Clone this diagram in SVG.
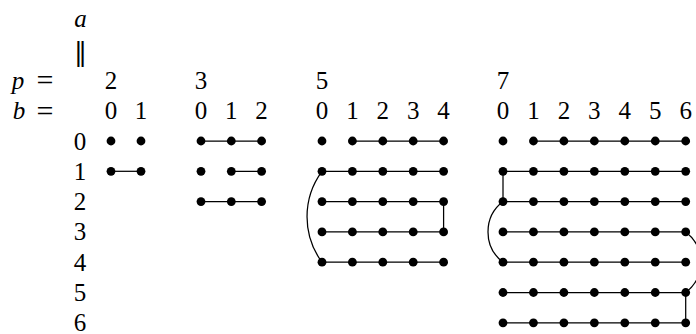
<svg xmlns="http://www.w3.org/2000/svg" xmlns:xlink="http://www.w3.org/1999/xlink" width="696" height="334" viewBox="0 0 696 334">
<style>
.dot{fill:#000}
.ln{fill:none;stroke:#000;stroke-width:1.25}
</style>
<defs><circle id="d" r="4.4" class="dot"/></defs>
<rect width="696" height="334" fill="#fff"/>
<g id="labels" font-family="'Liberation Serif', 'DejaVu Serif', serif" font-size="25" text-anchor="middle" fill="#000">
<text x="80.5" y="27" font-style="italic">a</text>
<text x="80.5" y="61" font-family="'DejaVu Serif', serif" font-size="26">‖</text>
<text x="18" y="88.5" font-style="italic">p</text>
<text x="45" y="90" font-size="30">=</text>
<text x="19" y="119" font-style="italic">b</text>
<text x="45" y="120.5" font-size="30">=</text>
<text x="111" y="88.5">2</text><text x="111" y="119">0</text><text x="141" y="119">1</text>
<text x="201" y="88.5">3</text><text x="201" y="119">0</text><text x="231.3" y="119">1</text><text x="261.6" y="119">2</text>
<text x="322" y="88.5">5</text><text x="322" y="119">0</text><text x="352.4" y="119">1</text><text x="382.8" y="119">2</text><text x="413.2" y="119">3</text><text x="443.6" y="119">4</text>
<text x="503" y="88.5">7</text><text x="503" y="119">0</text><text x="533.45" y="119">1</text><text x="563.9" y="119">2</text><text x="594.35" y="119">3</text><text x="624.8" y="119">4</text><text x="655.25" y="119">5</text><text x="685.7" y="119">6</text>
<text x="80" y="149.5">0</text><text x="80" y="179.8">1</text><text x="80" y="210.1">2</text><text x="80" y="240.4">3</text><text x="80" y="270.7">4</text><text x="80" y="301">5</text><text x="80" y="330.5">6</text>
</g>
<g id="connectors">
<path class="ln" d="M111,171.3H141"/>
<path class="ln" d="M201,141H261.6M231.3,171.3H261.6M201,201.6H261.6"/>
<path class="ln" d="M352.4,141H443.6M322,171.3H443.6M322,201.6H443.6M322,231.9H443.6M322,262.2H443.6M443.6,201.6V231.9"/>
<path class="ln" d="M322,171.3A76.5,76.5 0 0 0 322,262.2"/>
<path class="ln" d="M533.45,141H685.7M503,171.3H685.7M503,201.6H685.7M503,231.9H685.7M503,262.2H685.7M503,292.5H685.7M503,322.8H685.7M503,171.3V201.6M685.7,292.5V322.8"/>
<path class="ln" d="M503,201.6A38.1,38.1 0 0 0 503,262.2M685.7,231.9A38.1,38.1 0 0 1 685.7,292.5"/>
</g>
<g id="p2">
<g id="p2-r0"><use xlink:href="#d" x="111" y="141"/><use xlink:href="#d" x="141" y="141"/></g>
<g id="p2-r1"><use xlink:href="#d" x="111" y="171.3"/><use xlink:href="#d" x="141" y="171.3"/></g>
</g>
<g id="p3">
<g id="p3-r0"><use xlink:href="#d" x="201" y="141"/><use xlink:href="#d" x="231.3" y="141"/><use xlink:href="#d" x="261.6" y="141"/></g>
<g id="p3-r1"><use xlink:href="#d" x="201" y="171.3"/><use xlink:href="#d" x="231.3" y="171.3"/><use xlink:href="#d" x="261.6" y="171.3"/></g>
<g id="p3-r2"><use xlink:href="#d" x="201" y="201.6"/><use xlink:href="#d" x="231.3" y="201.6"/><use xlink:href="#d" x="261.6" y="201.6"/></g>
</g>
<g id="p5">
<g id="p5-r0"><use xlink:href="#d" x="322" y="141"/><use xlink:href="#d" x="352.4" y="141"/><use xlink:href="#d" x="382.8" y="141"/><use xlink:href="#d" x="413.2" y="141"/><use xlink:href="#d" x="443.6" y="141"/></g>
<g id="p5-r1"><use xlink:href="#d" x="322" y="171.3"/><use xlink:href="#d" x="352.4" y="171.3"/><use xlink:href="#d" x="382.8" y="171.3"/><use xlink:href="#d" x="413.2" y="171.3"/><use xlink:href="#d" x="443.6" y="171.3"/></g>
<g id="p5-r2"><use xlink:href="#d" x="322" y="201.6"/><use xlink:href="#d" x="352.4" y="201.6"/><use xlink:href="#d" x="382.8" y="201.6"/><use xlink:href="#d" x="413.2" y="201.6"/><use xlink:href="#d" x="443.6" y="201.6"/></g>
<g id="p5-r3"><use xlink:href="#d" x="322" y="231.9"/><use xlink:href="#d" x="352.4" y="231.9"/><use xlink:href="#d" x="382.8" y="231.9"/><use xlink:href="#d" x="413.2" y="231.9"/><use xlink:href="#d" x="443.6" y="231.9"/></g>
<g id="p5-r4"><use xlink:href="#d" x="322" y="262.2"/><use xlink:href="#d" x="352.4" y="262.2"/><use xlink:href="#d" x="382.8" y="262.2"/><use xlink:href="#d" x="413.2" y="262.2"/><use xlink:href="#d" x="443.6" y="262.2"/></g>
</g>
<g id="p7">
<g id="p7-r0"><use xlink:href="#d" x="503" y="141"/><use xlink:href="#d" x="533.45" y="141"/><use xlink:href="#d" x="563.9" y="141"/><use xlink:href="#d" x="594.35" y="141"/><use xlink:href="#d" x="624.8" y="141"/><use xlink:href="#d" x="655.25" y="141"/><use xlink:href="#d" x="685.7" y="141"/></g>
<g id="p7-r1"><use xlink:href="#d" x="503" y="171.3"/><use xlink:href="#d" x="533.45" y="171.3"/><use xlink:href="#d" x="563.9" y="171.3"/><use xlink:href="#d" x="594.35" y="171.3"/><use xlink:href="#d" x="624.8" y="171.3"/><use xlink:href="#d" x="655.25" y="171.3"/><use xlink:href="#d" x="685.7" y="171.3"/></g>
<g id="p7-r2"><use xlink:href="#d" x="503" y="201.6"/><use xlink:href="#d" x="533.45" y="201.6"/><use xlink:href="#d" x="563.9" y="201.6"/><use xlink:href="#d" x="594.35" y="201.6"/><use xlink:href="#d" x="624.8" y="201.6"/><use xlink:href="#d" x="655.25" y="201.6"/><use xlink:href="#d" x="685.7" y="201.6"/></g>
<g id="p7-r3"><use xlink:href="#d" x="503" y="231.9"/><use xlink:href="#d" x="533.45" y="231.9"/><use xlink:href="#d" x="563.9" y="231.9"/><use xlink:href="#d" x="594.35" y="231.9"/><use xlink:href="#d" x="624.8" y="231.9"/><use xlink:href="#d" x="655.25" y="231.9"/><use xlink:href="#d" x="685.7" y="231.9"/></g>
<g id="p7-r4"><use xlink:href="#d" x="503" y="262.2"/><use xlink:href="#d" x="533.45" y="262.2"/><use xlink:href="#d" x="563.9" y="262.2"/><use xlink:href="#d" x="594.35" y="262.2"/><use xlink:href="#d" x="624.8" y="262.2"/><use xlink:href="#d" x="655.25" y="262.2"/><use xlink:href="#d" x="685.7" y="262.2"/></g>
<g id="p7-r5"><use xlink:href="#d" x="503" y="292.5"/><use xlink:href="#d" x="533.45" y="292.5"/><use xlink:href="#d" x="563.9" y="292.5"/><use xlink:href="#d" x="594.35" y="292.5"/><use xlink:href="#d" x="624.8" y="292.5"/><use xlink:href="#d" x="655.25" y="292.5"/><use xlink:href="#d" x="685.7" y="292.5"/></g>
<g id="p7-r6"><use xlink:href="#d" x="503" y="322.8"/><use xlink:href="#d" x="533.45" y="322.8"/><use xlink:href="#d" x="563.9" y="322.8"/><use xlink:href="#d" x="594.35" y="322.8"/><use xlink:href="#d" x="624.8" y="322.8"/><use xlink:href="#d" x="655.25" y="322.8"/><use xlink:href="#d" x="685.7" y="322.8"/></g>
</g>
</svg>
